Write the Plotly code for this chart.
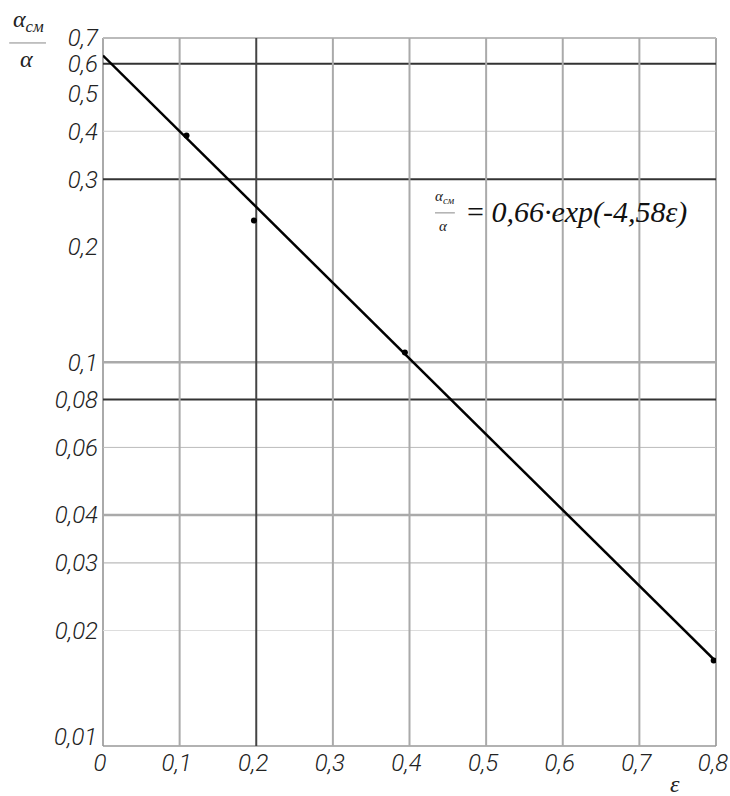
import plotly.graph_objects as go
import math

# data
pts_x = [0.109, 0.197, 0.394, 0.797]
pts_y = [0.39, 0.234, 0.106, 0.0167]
fit_x = [0.0, 0.8]
fit_y = [0.63, 0.0166]

x_ticks = [0, 0.1, 0.2, 0.3, 0.4, 0.5, 0.6, 0.7, 0.8]
x_labels = ["0", "0,1", "0,2", "0,3", "0,4", "0,5", "0,6", "0,7", "0,8"]
y_ticks = [0.7, 0.6, 0.5, 0.4, 0.3, 0.2, 0.1, 0.08, 0.06, 0.04, 0.03, 0.02]
y_labels = ["0,7", "0,6", "0,5", "0,4", "0,3", "0,2", "0,1", "0,08", "0,06", "0,04", "0,03", "0,02"]
y_bottom_tick = 0.01
y_bottom_label = "0,01"

# gridline values with styles (value, color, width)
h_grid = [(0.6, "#333333", 2), (0.4, "#c8c8c8", 1), (0.3, "#333333", 2), (0.1, "#aaaaaa", 2.5),
          (0.08, "#333333", 2), (0.06, "#bbbbbb", 1), (0.04, "#aaaaaa", 2.5), (0.03, "#aaaaaa", 1),
          (0.02, "#dddddd", 1)]
v_grid = [(0.1, "#aaaaaa", 2), (0.2, "#444444", 2), (0.3, "#aaaaaa", 2), (0.4, "#aaaaaa", 2),
          (0.5, "#aaaaaa", 2), (0.6, "#aaaaaa", 2), (0.7, "#aaaaaa", 2)]

tick_font = dict(family="Roboto, Liberation Sans, sans-serif", size=24, color="#222222",
                 style="italic", weight=300)

fig = go.Figure()
fig.add_trace(go.Scatter(x=fit_x, y=fit_y, mode="lines", line=dict(color="black", width=2.5),
                         showlegend=False, hoverinfo="skip"))
fig.add_trace(go.Scatter(x=pts_x, y=pts_y, mode="markers", marker=dict(color="black", size=6),
                         showlegend=False))

shapes = []
for v, c, w in h_grid:
    shapes.append(dict(type="line", xref="x", yref="y", x0=0, x1=0.8, y0=v, y1=v,
                       line=dict(color=c, width=w), layer="below"))
for v, c, w in v_grid:
    shapes.append(dict(type="line", xref="x", yref="y", x0=v, x1=v, y0=0.01, y1=0.7,
                       line=dict(color=c, width=w), layer="below"))
# frame
shapes.append(dict(type="line", xref="paper", yref="paper", x0=0, x1=0, y0=0, y1=1, line=dict(color="#aaaaaa", width=2), layer="below"))
shapes.append(dict(type="line", xref="paper", yref="paper", x0=1, x1=1, y0=0, y1=1, line=dict(color="#aaaaaa", width=2), layer="below"))
shapes.append(dict(type="line", xref="paper", yref="paper", x0=0, x1=1, y0=1, y1=1, line=dict(color="#bbbbbb", width=2), layer="below"))
shapes.append(dict(type="line", xref="paper", yref="paper", x0=0, x1=1, y0=0, y1=0, line=dict(color="#999999", width=1.5), layer="below"))
# y title fraction bar
shapes.append(dict(type="line", xref="paper", yref="paper", x0=-0.153, x1=-0.093, y0=0.993, y1=0.993,
                   line=dict(color="#888888", width=1)))
# formula fraction bar
shapes.append(dict(type="line", xref="paper", yref="paper", x0=0.5416, x1=0.574, y0=0.753, y1=0.753,
                   line=dict(color="#888888", width=1)))

serif = "Liberation Serif, DejaVu Serif, serif"
annotations = [
    dict(xref="paper", yref="y", x=0, y=math.log10(y_bottom_tick), yanchor="middle", xanchor="right",
         showarrow=False, text=y_bottom_label, font=tick_font, xshift=-4, yshift=9),
    dict(xref="paper", yref="paper", x=-0.122, y=1.024, yanchor="middle", xanchor="center", showarrow=False,
         text="<i>α<sub>см</sub></i>", font=dict(family=serif, size=24, color="#222")),
    dict(xref="paper", yref="paper", x=-0.125, y=0.970, yanchor="middle", xanchor="center", showarrow=False,
         text="<i>α</i>", font=dict(family=serif, size=24, color="#222")),
    dict(xref="paper", yref="paper", x=0.558, y=0.776, yanchor="middle", xanchor="center", showarrow=False,
         text="<i>α<sub>см</sub></i>", font=dict(family=serif, size=15, color="#222")),
    dict(xref="paper", yref="paper", x=0.555, y=0.735, yanchor="middle", xanchor="center", showarrow=False,
         text="<i>α</i>", font=dict(family=serif, size=15, color="#222")),
    dict(xref="paper", yref="paper", x=0.590, y=0.754, yanchor="middle", xanchor="left", showarrow=False,
         text="= <i>0,66·exp(-4,58ε)</i>", font=dict(family=serif, size=30, color="#111")),
    dict(xref="paper", yref="paper", x=0.933, y=-0.054, yanchor="middle", xanchor="center", showarrow=False,
         text="<i>ε</i>", font=dict(family=serif, size=24, color="#222")),
]

fig.update_layout(
    width=730, height=796,
    margin=dict(l=103, r=14, t=38, b=50, autoexpand=False),
    paper_bgcolor="white", plot_bgcolor="white",
    shapes=shapes, annotations=annotations,
    xaxis=dict(range=[0, 0.8], tickvals=x_ticks, ticktext=x_labels, showgrid=False, zeroline=False,
               showline=False, ticks="", tickfont=tick_font, automargin=False,
               ticklabeloverflow="allow", ticklabelshift=-3),
    yaxis=dict(type="log", range=[math.log10(0.01), math.log10(0.7)], tickvals=y_ticks, ticktext=y_labels,
               showgrid=False, zeroline=False, showline=False, ticks="", tickfont=tick_font,
               automargin=False, ticklabelstandoff=4, ticklabeloverflow="allow"),
)

fig.write_html("out.html", config={"displayModeBar": False},
               post_script="document.body.style.margin='0px';document.body.style.overflow='hidden';")
